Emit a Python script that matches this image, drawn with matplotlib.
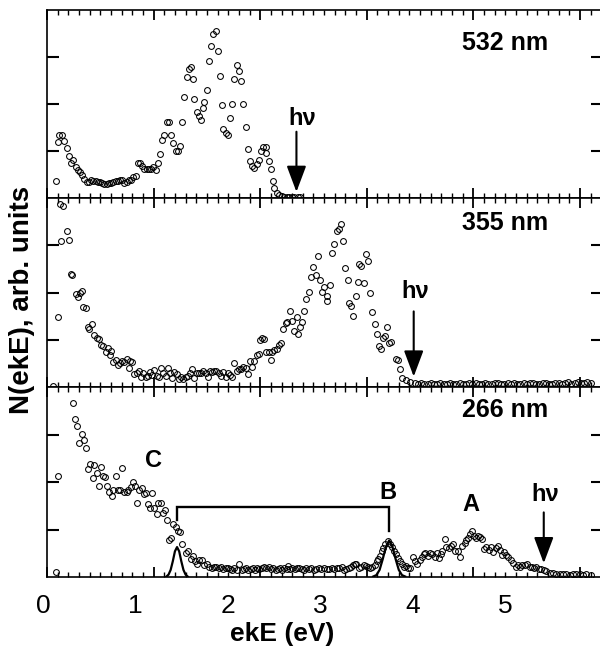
import numpy as np
import matplotlib
matplotlib.use("Agg")
import matplotlib.pyplot as plt
from matplotlib.ticker import MultipleLocator, FixedLocator

plt.rcParams['font.family'] = ['Liberation Sans', 'DejaVu Sans']

# ---------------- data (ekE in eV, N(ekE) in arb. units) ----------------
spec532 = [
    (0.084, 0.36), (0.106, 1.20), (0.116, 1.35), (0.138, 1.35), (0.163, 1.22), (0.184, 1.06),
    (0.206, 0.90), (0.225, 0.75), (0.247, 0.81), (0.269, 0.65), (0.288, 0.60), (0.309, 0.56),
    (0.331, 0.50), (0.350, 0.40), (0.372, 0.33), (0.394, 0.35), (0.413, 0.38), (0.434, 0.36),
    (0.456, 0.36), (0.475, 0.35), (0.497, 0.33), (0.519, 0.32), (0.538, 0.30), (0.559, 0.30),
    (0.581, 0.32), (0.600, 0.32), (0.622, 0.33), (0.644, 0.36), (0.663, 0.36), (0.684, 0.38),
    (0.706, 0.38), (0.725, 0.31), (0.747, 0.35), (0.769, 0.38), (0.788, 0.39), (0.809, 0.45),
    (0.831, 0.47), (0.850, 0.74), (0.872, 0.75), (0.894, 0.69), (0.913, 0.62), (0.934, 0.61),
    (0.956, 0.61), (0.975, 0.61), (0.997, 0.67), (1.019, 0.60), (1.038, 0.75), (1.059, 0.94),
    (1.081, 1.23), (1.100, 1.35), (1.122, 1.61), (1.144, 1.61), (1.163, 1.34), (1.184, 1.16),
    (1.206, 1.01), (1.225, 1.01), (1.247, 1.11), (1.269, 1.61), (1.288, 2.14), (1.309, 2.57),
    (1.331, 2.75), (1.350, 2.78), (1.372, 2.53), (1.381, 2.11), (1.403, 1.83), (1.425, 1.74),
    (1.444, 1.67), (1.466, 1.91), (1.475, 2.04), (1.497, 2.30), (1.519, 2.91), (1.538, 3.24),
    (1.559, 3.48), (1.581, 3.55), (1.600, 3.13), (1.622, 2.60), (1.644, 1.97), (1.653, 1.47),
    (1.675, 1.38), (1.694, 1.35), (1.716, 1.70), (1.738, 2.00), (1.756, 2.54), (1.778, 2.82),
    (1.800, 2.71), (1.819, 2.48), (1.841, 1.99), (1.863, 1.52), (1.881, 1.05), (1.903, 0.79),
    (1.925, 0.68), (1.944, 0.63), (1.966, 0.72), (1.988, 0.81), (2.006, 0.99), (2.028, 1.09),
    (2.050, 1.09), (2.059, 0.95), (2.081, 0.79), (2.100, 0.62), (2.122, 0.36), (2.131, 0.22),
    (2.153, 0.10), (2.175, 0.06), (2.200, 0.04), (2.220, 0.03), (2.250, 0.03), (2.270, 0.02),
    (2.300, 0.03), (2.320, 0.02), (2.350, 0.02), (2.370, 0.02),
]

spec355 = [
    (0.060, 0.03), (0.106, 1.48), (0.122, 3.87), (0.128, 3.09), (0.147, 3.84), (0.184, 3.30),
    (0.206, 3.11), (0.225, 2.40), (0.237, 2.38), (0.269, 1.97), (0.288, 1.90), (0.309, 1.98),
    (0.325, 2.03), (0.340, 1.70), (0.363, 1.67), (0.381, 1.28), (0.394, 1.23), (0.425, 1.34),
    (0.444, 1.10), (0.466, 1.04), (0.488, 1.01), (0.506, 0.88), (0.528, 0.87), (0.550, 0.74),
    (0.569, 0.82), (0.590, 0.68), (0.600, 0.77), (0.622, 0.52), (0.644, 0.57), (0.663, 0.47),
    (0.684, 0.50), (0.706, 0.55), (0.725, 0.52), (0.747, 0.60), (0.769, 0.41), (0.778, 0.54),
    (0.800, 0.52), (0.819, 0.27), (0.841, 0.29), (0.863, 0.33), (0.881, 0.22), (0.903, 0.30),
    (0.925, 0.21), (0.944, 0.24), (0.966, 0.32), (0.988, 0.25), (1.006, 0.35), (1.028, 0.24),
    (1.050, 0.22), (1.069, 0.40), (1.091, 0.30), (1.113, 0.24), (1.131, 0.40), (1.153, 0.29),
    (1.175, 0.18), (1.194, 0.32), (1.216, 0.27), (1.238, 0.17), (1.256, 0.21), (1.278, 0.16),
    (1.300, 0.22), (1.319, 0.24), (1.341, 0.29), (1.363, 0.38), (1.381, 0.20), (1.403, 0.30),
    (1.425, 0.29), (1.444, 0.30), (1.466, 0.33), (1.488, 0.29), (1.506, 0.22), (1.528, 0.34),
    (1.550, 0.31), (1.569, 0.33), (1.590, 0.34), (1.613, 0.29), (1.631, 0.24), (1.653, 0.32),
    (1.675, 0.21), (1.694, 0.29), (1.716, 0.25), (1.738, 0.21), (1.756, 0.50), (1.778, 0.33),
    (1.800, 0.38), (1.819, 0.38), (1.841, 0.43), (1.863, 0.40), (1.881, 0.27), (1.903, 0.54),
    (1.925, 0.43), (1.944, 0.55), (1.966, 0.67), (1.988, 0.70), (1.997, 1.00), (2.019, 1.04),
    (2.038, 1.02), (2.059, 0.75), (2.081, 0.75), (2.100, 0.57), (2.113, 0.75), (2.131, 0.79),
    (2.153, 0.81), (2.175, 0.88), (2.194, 0.93), (2.216, 1.23), (2.238, 1.35), (2.256, 1.37),
    (2.278, 1.60), (2.300, 1.39), (2.319, 1.18), (2.341, 1.48), (2.350, 1.12), (2.372, 1.28),
    (2.394, 1.37), (2.413, 1.60), (2.434, 1.87), (2.456, 2.01), (2.475, 2.33), (2.497, 2.55),
    (2.519, 2.38), (2.538, 2.77), (2.559, 2.26), (2.581, 2.01), (2.600, 2.12), (2.622, 1.92),
    (2.631, 1.83), (2.653, 2.16), (2.675, 2.84), (2.694, 3.02), (2.716, 3.30), (2.738, 3.34),
    (2.756, 3.46), (2.778, 3.08), (2.800, 2.52), (2.819, 2.26), (2.831, 1.78), (2.850, 1.72),
    (2.872, 1.51), (2.894, 1.92), (2.913, 2.22), (2.925, 2.60), (2.950, 2.57), (2.972, 2.21),
    (2.990, 2.81), (3.013, 2.67), (3.034, 1.99), (3.053, 1.59), (3.075, 1.34), (3.091, 1.12),
    (3.113, 0.86), (3.131, 0.80), (3.153, 1.03), (3.175, 1.07), (3.191, 1.28), (3.209, 0.93),
    (3.231, 0.96), (3.272, 0.59), (3.288, 0.57), (3.309, 0.38), (3.334, 0.18), (3.366, 0.15),
    (3.403, 0.11), (3.450, 0.08), (3.480, 0.07), (3.510, 0.08), (3.540, 0.06), (3.570, 0.07),
    (3.600, 0.08), (3.630, 0.06), (3.660, 0.07), (3.690, 0.08), (3.720, 0.06), (3.750, 0.07),
    (3.780, 0.09), (3.810, 0.07), (3.840, 0.06), (3.870, 0.08), (3.900, 0.07), (3.930, 0.06),
    (3.960, 0.08), (3.990, 0.07), (4.020, 0.09), (4.050, 0.06), (4.080, 0.07), (4.110, 0.08),
    (4.140, 0.07), (4.170, 0.06), (4.200, 0.08), (4.230, 0.09), (4.260, 0.07), (4.290, 0.06),
    (4.320, 0.08), (4.350, 0.07), (4.380, 0.09), (4.410, 0.07), (4.440, 0.06), (4.470, 0.08),
    (4.500, 0.07), (4.530, 0.09), (4.560, 0.08), (4.590, 0.06), (4.620, 0.07), (4.650, 0.09),
    (4.680, 0.08), (4.710, 0.07), (4.740, 0.06), (4.770, 0.08), (4.800, 0.09), (4.830, 0.07),
    (4.860, 0.08), (4.890, 0.10), (4.920, 0.07), (4.950, 0.08), (4.980, 0.10), (5.010, 0.09),
    (5.040, 0.08), (5.070, 0.10), (5.100, 0.08),
]

spec266 = [
    (0.084, 0.10), (0.106, 2.13), (0.247, 3.66), (0.263, 3.33), (0.284, 3.18), (0.303, 2.83),
    (0.325, 3.02), (0.347, 2.88), (0.366, 2.72), (0.381, 2.28), (0.403, 2.38), (0.428, 2.08),
    (0.444, 2.35), (0.466, 2.18), (0.488, 1.92), (0.506, 2.31), (0.528, 2.13), (0.544, 2.10),
    (0.566, 1.91), (0.584, 1.78), (0.606, 1.70), (0.622, 1.84), (0.647, 2.12), (0.663, 1.83),
    (0.684, 1.83), (0.706, 2.30), (0.725, 1.80), (0.747, 1.80), (0.763, 1.84), (0.784, 1.89),
    (0.809, 1.99), (0.825, 1.91), (0.847, 1.55), (0.866, 1.83), (0.888, 1.87), (0.909, 1.74),
    (0.928, 1.76), (0.944, 1.53), (0.966, 1.46), (0.988, 1.76), (1.006, 1.45), (1.028, 1.32),
    (1.044, 1.55), (1.066, 1.55), (1.084, 1.34), (1.106, 1.41), (1.128, 1.21), (1.147, 0.77),
    (1.163, 0.82), (1.184, 1.11), (1.206, 1.05), (1.225, 0.96), (1.247, 0.95), (1.269, 0.70),
    (1.300, 0.50), (1.325, 0.55), (1.347, 0.38), (1.366, 0.45), (1.388, 0.33), (1.410, 0.28),
    (1.428, 0.35), (1.450, 0.36), (1.472, 0.26), (1.497, 0.28), (1.519, 0.22), (1.544, 0.20),
    (1.566, 0.21), (1.590, 0.22), (1.613, 0.18), (1.631, 0.21), (1.653, 0.17), (1.675, 0.20),
    (1.694, 0.18), (1.716, 0.16), (1.738, 0.15), (1.756, 0.18), (1.778, 0.15), (1.803, 0.27),
    (1.825, 0.15), (1.847, 0.16), (1.866, 0.18), (1.888, 0.15), (1.910, 0.16), (1.928, 0.20),
    (1.950, 0.15), (1.972, 0.18), (1.990, 0.16), (2.013, 0.20), (2.034, 0.22), (2.059, 0.20),
    (2.081, 0.22), (2.100, 0.16), (2.122, 0.18), (2.144, 0.15), (2.163, 0.16), (2.184, 0.20),
    (2.206, 0.15), (2.225, 0.18), (2.247, 0.16), (2.263, 0.23), (2.284, 0.16), (2.303, 0.18),
    (2.325, 0.16), (2.347, 0.18), (2.366, 0.20), (2.388, 0.16), (2.410, 0.15), (2.434, 0.18),
    (2.459, 0.16), (2.481, 0.18), (2.503, 0.15), (2.528, 0.16), (2.553, 0.18), (2.575, 0.16),
    (2.597, 0.18), (2.622, 0.16), (2.647, 0.17), (2.669, 0.18), (2.690, 0.16), (2.716, 0.18),
    (2.741, 0.20), (2.763, 0.22), (2.788, 0.15), (2.809, 0.16), (2.834, 0.18), (2.856, 0.22),
    (2.872, 0.26), (2.888, 0.27), (2.903, 0.28), (2.928, 0.20), (2.950, 0.22), (2.972, 0.26),
    (2.997, 0.23), (3.013, 0.21), (3.034, 0.20), (3.053, 0.22), (3.075, 0.26), (3.091, 0.33),
    (3.106, 0.38), (3.122, 0.45), (3.138, 0.54), (3.153, 0.61), (3.175, 0.70), (3.200, 0.75),
    (3.222, 0.70), (3.241, 0.63), (3.256, 0.54), (3.278, 0.49), (3.294, 0.40), (3.316, 0.34),
    (3.334, 0.28), (3.350, 0.21), (3.372, 0.23), (3.388, 0.20), (3.403, 0.20), (3.434, 0.42),
    (3.456, 0.34), (3.475, 0.27), (3.497, 0.35), (3.519, 0.43), (3.534, 0.48), (3.550, 0.50),
    (3.575, 0.45), (3.597, 0.51), (3.616, 0.48), (3.638, 0.43), (3.659, 0.50), (3.678, 0.40),
    (3.700, 0.48), (3.709, 0.54), (3.731, 0.81), (3.747, 0.64), (3.769, 0.62), (3.788, 0.66),
    (3.809, 0.70), (3.831, 0.54), (3.856, 0.54), (3.878, 0.42), (3.897, 0.66), (3.919, 0.71),
    (3.934, 0.77), (3.950, 0.82), (3.972, 0.91), (3.988, 0.96), (4.003, 0.87), (4.022, 0.82),
    (4.044, 0.87), (4.059, 0.84), (4.081, 0.80), (4.100, 0.59), (4.122, 0.63), (4.144, 0.56),
    (4.163, 0.63), (4.184, 0.52), (4.209, 0.62), (4.231, 0.66), (4.247, 0.56), (4.269, 0.47),
    (4.284, 0.52), (4.309, 0.47), (4.325, 0.42), (4.350, 0.35), (4.372, 0.29), (4.397, 0.22),
    (4.419, 0.26), (4.441, 0.22), (4.459, 0.26), (4.481, 0.26), (4.503, 0.27), (4.528, 0.22),
    (4.550, 0.21), (4.569, 0.18), (4.591, 0.22), (4.616, 0.16), (4.638, 0.17), (4.663, 0.15),
    (4.684, 0.13), (4.716, 0.08), (4.747, 0.08), (4.778, 0.06), (4.809, 0.06), (4.841, 0.07),
    (4.872, 0.06), (4.903, 0.05), (4.934, 0.06), (4.966, 0.07), (4.997, 0.06), (5.030, 0.05),
    (5.060, 0.06), (5.100, 0.05),
]

# fitted peak profiles drawn in the 266 nm panel
peak1_x = [1.12, 1.14, 1.16, 1.18, 1.20, 1.22, 1.24, 1.26, 1.28, 1.30, 1.32]
peak1_y = [0.01, 0.05, 0.15, 0.33, 0.54, 0.63, 0.54, 0.33, 0.15, 0.05, 0.01]
peak2_x = [3.06, 3.09, 3.12, 3.15, 3.18, 3.21, 3.24, 3.27, 3.30, 3.33, 3.36]
peak2_y = [0.01, 0.04, 0.15, 0.38, 0.64, 0.77, 0.64, 0.38, 0.15, 0.04, 0.01]

# bracket joining the two peaks
bracket_x = [1.22, 1.22, 3.21, 3.21]
bracket_y = [1.21, 1.48, 1.48, 0.96]

wavelengths = ["532 nm", "355 nm", "266 nm"]
photon_energy = [2.34, 3.44, 4.66]          # hν arrow positions (eV)
arrow_top = [1.41, 1.60, 1.36]
arrow_tip = [0.13, 0.22, 0.29]
hv_text_y = [1.70, 2.03, 1.74]
hv_text_dx = [0.05, 0.01, 0.01]
name_y = [3.30, 3.48, 3.52]

peak_labels = ["C", "B", "A"]
peak_label_x = [1.00, 3.20, 3.98]
peak_label_y = [2.45, 1.78, 1.53]

tick_values = [0, 1, 2, 3, 4, 5]
tick_labels = ["0", "1", "2", "3", "4", "5"]
y_ticks = [1, 2, 3]

# ---------------- figure ----------------
W_PX, H_PX = 600, 646
fig = plt.figure(figsize=(W_PX / 100, H_PX / 100), dpi=100)

left_px, right_px = 47, 603
panel_px = [(448, 188), (259, 189), (69, 190)]   # (bottom from fig bottom, height), top->bottom
XMAX = (right_px - left_px) / 106.6

spectra = [spec532, spec355, spec266]
axes = []
for i, (b, h) in enumerate(panel_px):
    ax = fig.add_axes([left_px / W_PX, b / H_PX, (right_px - left_px) / W_PX, h / H_PX])
    axes.append(ax)
    data = np.array(spectra[i]).T
    ax.plot(data[0], data[1], 'o', ms=4.2, mfc='none', mec='k', mew=0.75, clip_on=True)
    ax.set_xlim(0, XMAX)
    ax.set_ylim(0, 4)
    ax.xaxis.set_major_locator(FixedLocator(tick_values))
    ax.xaxis.set_minor_locator(MultipleLocator(0.1))
    ax.set_yticks(y_ticks)
    ax.tick_params(axis='x', which='both', direction='in', top=True, bottom=True,
                   labelbottom=False, labeltop=False)
    ax.tick_params(axis='x', which='major', length=7.5, width=1.3)
    ax.tick_params(axis='x', which='minor', length=3.8, width=1.0)
    ax.tick_params(axis='y', which='major', direction='in', left=True, right=True,
                   labelleft=False, length=8.5, width=1.5)
    for s in ax.spines.values():
        s.set_linewidth(1.2)

    # wavelength label
    ax.text(4.70, name_y[i], wavelengths[i], ha='right', va='center',
            fontsize=18, fontweight='bold')
    # photon energy arrow
    ax.annotate('', xy=(photon_energy[i], arrow_tip[i]),
                xytext=(photon_energy[i], arrow_top[i]),
                arrowprops=dict(arrowstyle='-|>,head_length=0.8,head_width=0.3',
                                mutation_scale=20, lw=1.5, color='k',
                                shrinkA=0, shrinkB=0))
    ax.text(photon_energy[i] + hv_text_dx[i], hv_text_y[i], 'hν', ha='center',
            va='center', fontsize=17, fontweight='bold')

ax3 = axes[2]
ax3.plot(peak1_x, peak1_y, 'k-', lw=1.6)
ax3.plot(peak2_x, peak2_y, 'k-', lw=1.6)
ax3.plot(bracket_x, bracket_y, 'k-', lw=1.7, solid_joinstyle='miter')
for lab, lx, ly in zip(peak_labels, peak_label_x, peak_label_y):
    ax3.text(lx, ly, lab, ha='center', va='center', fontsize=17, fontweight='bold')

# tick labels (drawn on a separate, frameless axis: the original labels are
# placed on their own spacing)
lab_left, lab_right = 38, 600
lab_ax = fig.add_axes([lab_left / W_PX, 69 / H_PX, (lab_right - lab_left) / W_PX, 0.0001])
lab_ax.set_xlim((lab_left - 43) / 92.4, (lab_right - 43) / 92.4)
lab_ax.set_xticks(tick_values)
lab_ax.set_xticklabels(tick_labels, fontsize=19)
lab_ax.tick_params(axis='x', length=0, pad=12)
lab_ax.set_yticks([])
for s in lab_ax.spines.values():
    s.set_visible(False)
lab_ax.patch.set_visible(False)

fig.text(282 / W_PX, (H_PX - 641) / H_PX, 'ekE (eV)', ha='center', va='baseline',
         fontsize=19, fontweight='bold')
fig.text(22 / W_PX, (H_PX - 300) / H_PX, 'N(ekE), arb. units', ha='center', va='center',
         rotation=90, fontsize=20, fontweight='bold')

fig.savefig('out.png', dpi=100)
